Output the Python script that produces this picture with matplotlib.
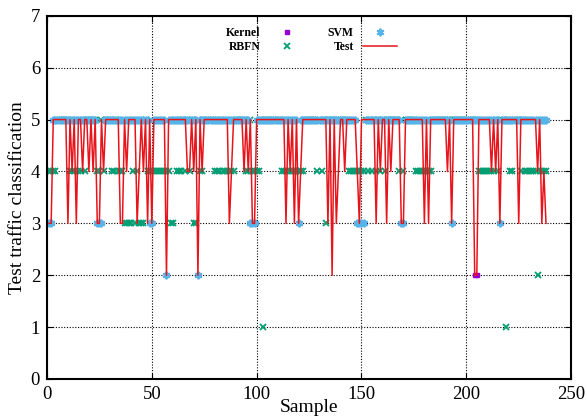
import numpy as np
import matplotlib
matplotlib.use("Agg")
import matplotlib.pyplot as plt

plt.rcParams['font.family'] = ['Liberation Serif', 'DejaVu Serif']

# Campioni del test (1..238), classe reale 5 tranne dove indicato
n_samples = 238
test_dip_x = [1, 2, 10, 12, 14, 17, 20, 22, 24, 25, 27, 35, 36, 38, 43, 44, 46, 48, 50,
              57, 67, 68, 70, 72, 74, 87, 88, 94, 96, 98, 99,
              114, 116, 118, 120, 121, 134, 136, 138, 139, 142, 148, 149,
              157, 159, 162, 164, 169, 170, 180, 182, 191, 193,
              204, 205, 212, 214, 216, 225, 234, 236, 237, 238]
test_dip_y = [3, 3, 3, 4, 3, 4, 4, 4, 3, 3, 4, 3, 3, 4, 3, 4, 4, 3, 3,
              2, 4, 4, 4, 2, 4, 3, 4, 4, 4, 3, 3,
              3, 4, 3, 3, 4, 3, 2, 3, 4, 4, 4, 3,
              3, 4, 3, 4, 3, 3, 3, 3, 4, 3,
              2, 2, 4, 4, 3, 3, 4, 3, 4, 3]

# SVM: classe 5 tranne questi campioni
svm_x = [1, 2, 24, 25, 26, 49, 50, 57, 72, 97, 98, 99, 120,
         148, 149, 150, 151, 169, 170, 193, 216]
svm_y = [3, 3, 3, 3, 3, 3, 3, 2, 2, 3, 3, 3, 3,
         3, 3, 3, 3, 3, 3, 3, 3]

# Kernel: come SVM, piu' questi campioni
kernel_x = [204, 205]
kernel_y = [2, 2]

# RBFN: classe 5 tranne questi campioni
rbfn_x4 = [1, 2, 3, 4, 11, 12, 13, 15, 16, 18, 24, 25, 27, 31, 32, 34, 35, 36,
           41, 43, 48, 49, 50, 51, 52, 53, 54, 55, 56, 57, 58, 62, 63, 64, 66, 68,
           73, 74, 80, 81, 82, 84, 85, 86, 87, 88, 89, 95, 96, 98, 99, 100, 101,
           112, 113, 114, 115, 116, 117, 118, 119, 120, 121, 122, 129, 131,
           144, 145, 146, 147, 148, 149, 150, 151, 153, 155, 157, 159, 161, 168, 170,
           176, 177, 178, 179, 180, 181, 182, 183, 206, 207, 208, 209, 210, 211, 212,
           213, 215, 221, 222, 226, 228, 229, 230, 231, 232, 233, 235, 236, 237, 238]
rbfn_x3 = [37, 38, 39, 40, 42, 44, 45, 46, 59, 60, 70, 71, 133]
rbfn_x2 = [234]
rbfn_x1 = [103, 219]

samples = np.arange(1, n_samples + 1)

test = np.full(n_samples, 5)
test[np.array(test_dip_x) - 1] = test_dip_y

svm = np.full(n_samples, 5)
svm[np.array(svm_x) - 1] = svm_y

kernel = svm.copy()
kernel[np.array(kernel_x) - 1] = kernel_y

rbfn = np.full(n_samples, 5)
rbfn[np.array(rbfn_x4) - 1] = 4
rbfn[np.array(rbfn_x3) - 1] = 3
rbfn[np.array(rbfn_x2) - 1] = 2
rbfn[np.array(rbfn_x1) - 1] = 1

fig = plt.figure(figsize=(5.87, 4.16), dpi=100)
ax = fig.add_axes([0.080, 0.089, 0.893, 0.873])

ax.plot(samples, kernel, ls='none', marker='s', ms=3.5, color='#9400d3', label='Kernel')
ax.plot(samples, rbfn, ls='none', marker='x', ms=4.5, mew=1.3, color='#009e73', label='RBFN')
ax.plot(samples, svm, ls='none', marker=(6, 2, 0), ms=5.5, mew=1.4, color='#56b4e9', label='SVM')
ax.plot(samples, test, color='#e8141b', lw=1.1, label='Test')

ax.set_xlim(0, 250)
ax.set_ylim(0, 7)
ax.set_xticks(np.arange(0, 251, 50))
ax.set_yticks(np.arange(0, 8, 1))
ax.grid(True, color='black', ls=(0, (1, 1.5)), lw=0.8)
ax.tick_params(direction='in', top=True, right=True, labelsize=13.5, length=4, pad=5)
for sp in ax.spines.values():
    sp.set_linewidth(1.5)

ax.set_xlabel('Sample', fontsize=14, labelpad=-3)
ax.set_ylabel('Test traffic classification', fontsize=14, labelpad=3)

ax.legend(ncol=2, loc='upper center', bbox_to_anchor=(0.505, 0.995), frameon=False,
          markerfirst=False, prop={'size': 8.5, 'weight': 'bold'}, handlelength=2.9,
          columnspacing=2.0, handletextpad=0.8, labelspacing=0.15, borderpad=0.3)

fig.savefig('out.png', dpi=100)
